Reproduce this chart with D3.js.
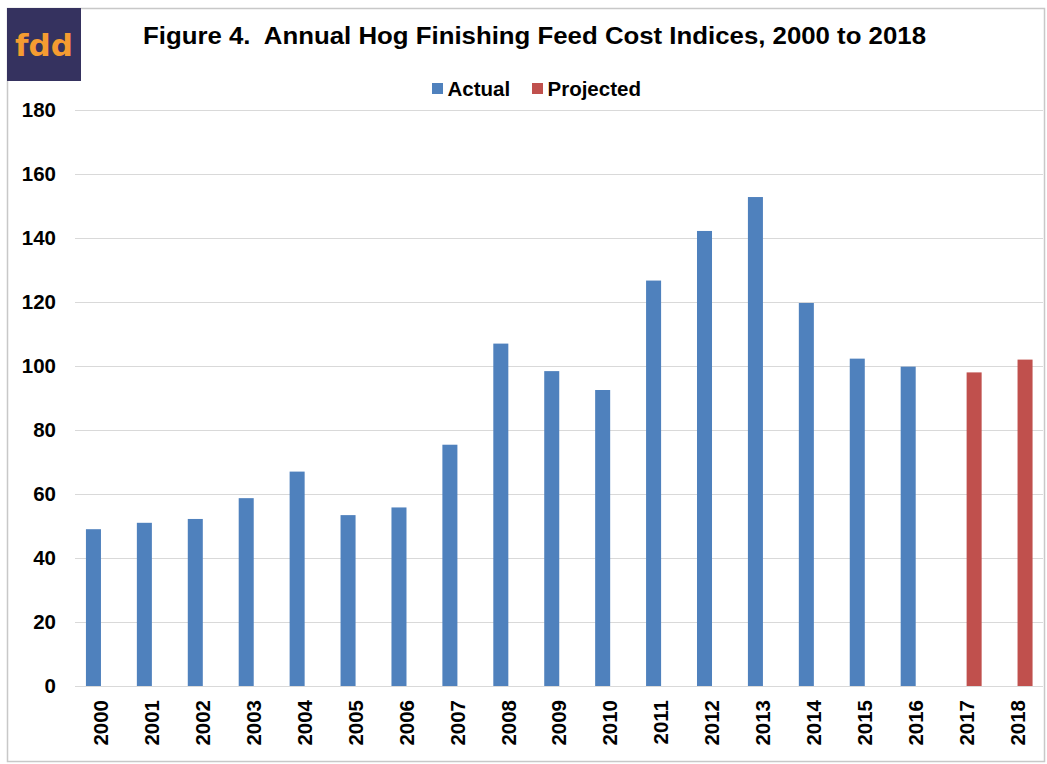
<!DOCTYPE html>
<html><head><meta charset="utf-8">
<script src="https://cdn.jsdelivr.net/npm/d3@7"></script>
<style>body{margin:0;background:#fff;}svg{display:block;font-family:"Liberation Sans",Arial,sans-serif;}</style>
</head><body>
<svg id="c" width="1047" height="764"></svg>
<script>
const years = ["2000","2001","2002","2003","2004","2005","2006","2007","2008","2009","2010","2011","2012","2013","2014","2015","2016","2017","2018"];
const actual = [49,51,52.2,58.7,67,53.4,55.8,75.4,107,98.4,92.5,126.7,142.2,152.8,119.7,102.3,99.8,null,null];
const projected = [null,null,null,null,null,null,null,null,null,null,null,null,null,null,null,null,null,98,102];
const yTicks = [0,20,40,60,80,100,120,140,160,180];
const seriesNames = ["Actual","Projected"];
const colors = ["#4F81BD","#C0504D"];

const svg = d3.select("#c");
// outer border
svg.append("rect").attr("x",7.5).attr("y",8.5).attr("width",1037).attr("height",753).attr("fill","none").attr("stroke","#c8c8c8").attr("stroke-width",1.5);
// logo
svg.append("rect").attr("x",7).attr("y",8).attr("width",74).attr("height",73).attr("fill","#35325F");
svg.append("text").attr("x",44).attr("y",56).attr("text-anchor","middle").attr("font-size",31).attr("font-weight","bold")
  .attr("fill","#F59C31").attr("font-family","'DejaVu Sans',sans-serif").text("fdd");

svg.append("text").attr("x",143).attr("y",44).attr("font-size",23).attr("font-weight","bold")
  .attr("textLength",783).attr("lengthAdjust","spacingAndGlyphs")
  .attr("fill","#000").attr("xml:space","preserve").text("Figure 4.  Annual Hog Finishing Feed Cost Indices, 2000 to 2018");

const x0 = d3.scaleBand().domain(years).range([75.5,1043]).paddingInner(0.41).paddingOuter(0.205);
const x1 = d3.scaleBand().domain(seriesNames).range([0,x0.bandwidth()]);
const y = d3.scaleLinear().domain([0,180]).range([686,110]);

// gridlines
svg.append("g").selectAll("line").data(yTicks).join("line")
  .attr("x1",75).attr("x2",1043).attr("y1",d=>y(d)+0.5).attr("y2",d=>y(d)+0.5)
  .attr("stroke","#d9d9d9").attr("stroke-width",1);

// y axis labels
const yAxis = d3.axisLeft(y).tickValues(yTicks).tickSize(0).tickPadding(0);
const ya = svg.append("g").attr("transform","translate(56,0) scale(1.05,1)").call(yAxis);
ya.select(".domain").remove();
ya.selectAll("text").attr("font-size",19.5).attr("font-weight","bold").attr("fill","#000").attr("font-family","'Liberation Sans',Arial,sans-serif");

// bars
const series = [actual, projected];
series.forEach((vals,si)=>{
  svg.append("g").selectAll("rect").data(years.map((yr,i)=>({yr,v:vals[i]})).filter(d=>d.v!=null)).join("rect")
    .attr("x",d=>x0(d.yr)+x1(seriesNames[si])).attr("width",x1.bandwidth())
    .attr("y",d=>y(d.v)).attr("height",d=>y(0)-y(d.v))
    .attr("fill",colors[si]);
});

// x axis labels
const xAxis = d3.axisBottom(x0).tickSize(0).tickPadding(0);
const xa = svg.append("g").attr("transform","translate(0,686)").call(xAxis);
xa.select(".domain").remove();
xa.selectAll("text").attr("font-size",20.5).attr("font-weight","bold").attr("fill","#000")
  .attr("font-family","'Liberation Sans',Arial,sans-serif")
  .attr("transform","translate(0,14) rotate(-90)").attr("text-anchor","end").attr("dy","0.35em").attr("x",0).attr("y",0);

// legend
const leg = svg.append("g");
const legX = [432, 532];
seriesNames.forEach((n,i)=>{
  leg.append("rect").attr("x",legX[i]).attr("y",83).attr("width",11).attr("height",11).attr("fill",colors[i]);
  leg.append("text").attr("x",legX[i]+15.5).attr("y",95.5).attr("font-size",20.5).attr("font-weight","bold").attr("fill","#000").text(n);
});
</script>
</body></html>
